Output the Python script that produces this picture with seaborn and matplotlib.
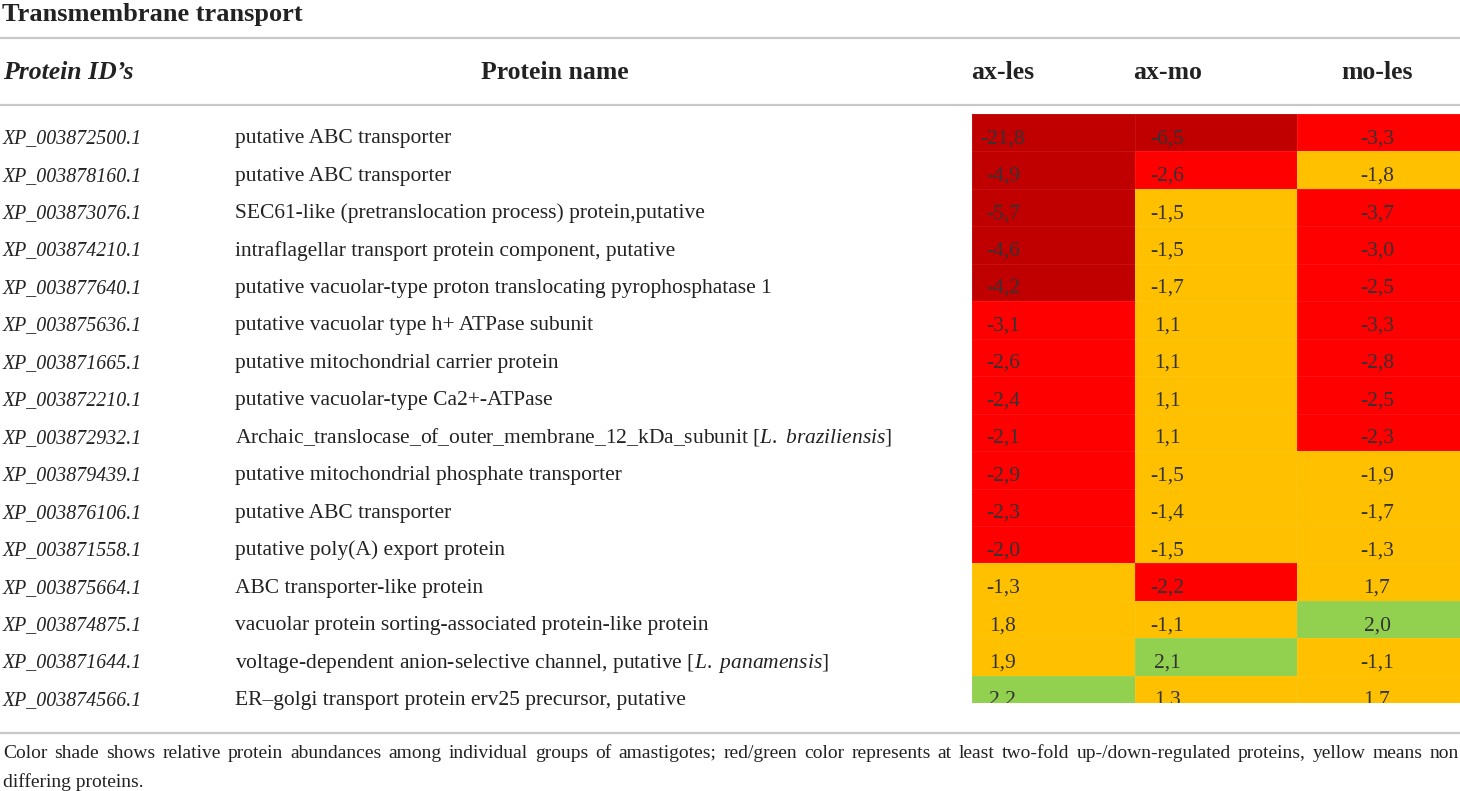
import numpy as np
import pandas as pd
import seaborn as sns
import matplotlib.pyplot as plt
from matplotlib.colors import ListedColormap, BoundaryNorm

# ? datos de la tabla
protein_ids = [
    "XP_003872500.1", "XP_003878160.1", "XP_003873076.1", "XP_003874210.1",
    "XP_003877640.1", "XP_003875636.1", "XP_003871665.1", "XP_003872210.1",
    "XP_003872932.1", "XP_003879439.1", "XP_003876106.1", "XP_003871558.1",
    "XP_003875664.1", "XP_003874875.1", "XP_003871644.1", "XP_003874566.1",
]
protein_names = [
    "putative ABC transporter",
    "putative ABC transporter",
    "SEC61-like (pretranslocation process) protein,putative",
    "intraflagellar transport protein component, putative",
    "putative vacuolar-type proton translocating pyrophosphatase 1",
    "putative vacuolar type h+ ATPase subunit",
    "putative mitochondrial carrier protein",
    "putative vacuolar-type Ca2+-ATPase",
    r"Archaic_translocase_of_outer_membrane_12_kDa_subunit [$\mathit{L.}$ $\mathit{braziliensis}$]",
    "putative mitochondrial phosphate transporter",
    "putative ABC transporter",
    "putative poly(A) export protein",
    "ABC transporter-like protein",
    "vacuolar protein sorting-associated protein-like protein",
    r"voltage-dependent anion-selective channel, putative [$\mathit{L.}$ $\mathit{panamensis}$]",
    "ER\u2013golgi transport protein erv25 precursor, putative",
]
comparisons = ["ax-les", "ax-mo", "mo-les"]
ax_les = [-21.8, -4.9, -5.7, -4.6, -4.2, -3.1, -2.6, -2.4, -2.1, -2.9, -2.3, -2.0, -1.3, 1.8, 1.9, 2.2]
ax_mo = [-6.5, -2.6, -1.5, -1.5, -1.7, 1.1, 1.1, 1.1, 1.1, -1.5, -1.4, -1.5, -2.2, -1.1, 2.1, 1.3]
mo_les = [-3.3, -1.8, -3.7, -3.0, -2.5, -3.3, -2.8, -2.5, -2.3, -1.9, -1.7, -1.3, 1.7, 2.0, -1.1, 1.7]

title = "Transmembrane transport"
footnote_1 = ("Color shade shows relative protein abundances among individual groups of amastigotes; "
              "red/green color represents at least two-fold up-/down-regulated proteins, yellow means non")
footnote_2 = "differing proteins."

shade_colors = ["#C00000", "#FF0000", "#FFC000", "#92D050"]
shade_bounds = [-30, -3.95, -1.95, 1.95, 30]

df = pd.DataFrame({"ax-les": ax_les, "ax-mo": ax_mo, "mo-les": mo_les}, index=protein_ids)

sns.set_style("white")
plt.rcParams["font.family"] = ["Liberation Serif", "DejaVu Serif"]
plt.rcParams["mathtext.fontset"] = "custom"
plt.rcParams["mathtext.rm"] = "Liberation Serif"
plt.rcParams["mathtext.it"] = "Liberation Serif:italic"

W, H = 1460, 791
fig = plt.figure(figsize=(W / 100, H / 100), dpi=100)


def fx(px):
    return px / W


def fy(py):
    return 1 - py / H


top_px, bot_px, row_px = 114, 703.3, 37.45
n_vis = (bot_px - top_px) / row_px
body = 15.5
head = 18.5
ink = "#222222"

# ? mapa de calor
ax = fig.add_axes([fx(972), fy(bot_px), fx(W - 972), (bot_px - top_px) / H])
cmap = ListedColormap(shade_colors)
norm = BoundaryNorm(shade_bounds, cmap.N)
sns.heatmap(df, ax=ax, cmap=cmap, norm=norm, cbar=False,
            linewidths=0.4, linecolor=(1, 1, 1, 0.07))
ax.set_ylim(n_vis, 0)
ax.set_xticks([])
ax.set_yticks([])
ax.set_xlabel("")
ax.set_ylabel("")
for s in ax.spines.values():
    s.set_visible(False)

col_off = [0.19, 1.20, 2.49]
for j, c in enumerate(comparisons):
    for i, v in enumerate(df[c]):
        ax.text(col_off[j], i + 0.78, f"{v:.1f}".replace(".", ","), ha="center", va="baseline",
                fontsize=body, color="#333333", clip_on=True)
    ax.text(col_off[j], 1 + (top_px - 79.3) / (bot_px - top_px), c, transform=ax.get_xaxis_transform(),
            ha="center", va="baseline", fontsize=head, fontweight="bold", color=ink)

# ? columnas de texto
axl = fig.add_axes([0, fy(bot_px), fx(972), (bot_px - top_px) / H])
axl.set_xlim(0, 972)
axl.set_ylim(n_vis, 0)
axl.axis("off")
for i, (pid, name) in enumerate(zip(protein_ids, protein_names)):
    axl.text(3, i + 0.78, pid, style="italic", fontsize=14.3, va="baseline", color=ink)
    axl.text(235, i + 0.78, name, fontsize=body, va="baseline", color=ink)

fig.text(fx(2), fy(20.7), title, fontsize=19, fontweight="bold", va="baseline", color=ink)
fig.text(fx(3), fy(79.3), "Protein ID\u2019s", fontsize=head, fontweight="bold", style="italic",
         va="baseline", color=ink)
fig.text(fx(555), fy(79.3), "Protein name", fontsize=head, fontweight="bold", ha="center",
         va="baseline", color=ink)

for yl in [38, 105, 733]:
    fig.add_artist(plt.Line2D([0, 1], [fy(yl), fy(yl)], color="#c8c8c8", lw=1.6,
                              transform=fig.transFigure))

# ? nota al pie justificada
renderer = fig.canvas.get_renderer()
words = footnote_1.split(" ")
txts = [fig.text(0, fy(758), w, fontsize=14, va="baseline", color=ink) for w in words]
widths = [t.get_window_extent(renderer).width for t in txts]
gap = (W - 3 - 1 - sum(widths)) / (len(words) - 1)
xpos = 3
for t, w in zip(txts, widths):
    t.set_x(fx(xpos))
    xpos += w + gap
fig.text(fx(3), fy(787), footnote_2, fontsize=14, va="baseline", color=ink)

fig.savefig("out.png", dpi=100)
